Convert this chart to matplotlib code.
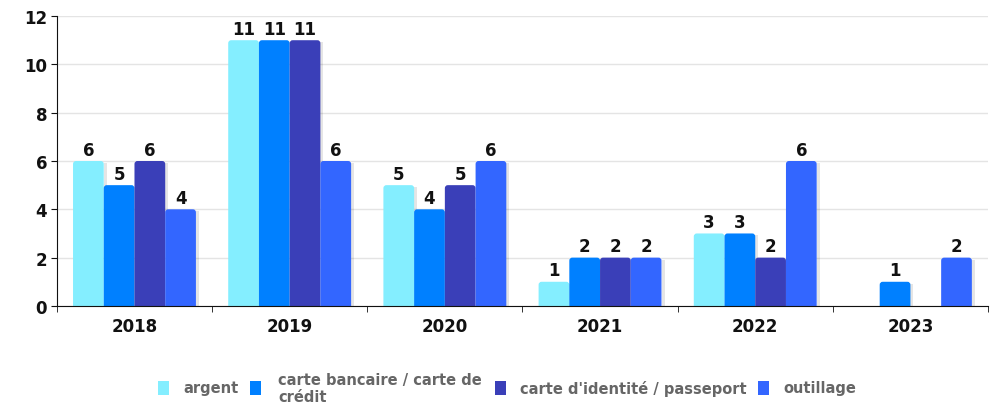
import numpy as np
import matplotlib
matplotlib.use("Agg")
import matplotlib.pyplot as plt
from matplotlib.patches import FancyBboxPatch, Rectangle

years = ["2018", "2019", "2020", "2021", "2022", "2023"]
series_names = ["argent", "carte bancaire / carte de\ncrédit",
                "carte d'identité / passeport", "outillage"]
argent = [6, 11, 5, 1, 3, None]
carte_bancaire = [5, 11, 4, 2, 3, 1]
carte_identite = [6, 11, 5, 2, 2, None]
outillage = [4, 6, 6, 2, 6, 2]
series_values = [argent, carte_bancaire, carte_identite, outillage]
colors = ["#84eeff", "#0080ff", "#3a3fb8", "#3366ff"]
yticks = [0, 2, 4, 6, 8, 10, 12]

W, H = 9.98, 4.06
fig = plt.figure(figsize=(W, H), dpi=100)
ax_rect = [0.057, 0.244, 0.933, 0.714]
ax = fig.add_axes(ax_rect)

n_groups = len(years)
x = np.arange(n_groups)
bar_w = 0.198
ax.set_xlim(-0.5, n_groups - 0.5)
ax.set_ylim(0, 12)

# pixel -> data scale for rounded bar tops
px_x = (n_groups) / (ax_rect[2] * W * 100)
px_y = 12 / (ax_rect[3] * H * 100)
r_px = 3.0
rs = r_px * px_x
aspect = px_y / px_x

for s, (vals, col) in enumerate(zip(series_values, colors)):
    for g, v in enumerate(vals):
        if v is None:
            continue
        left = x[g] - 2 * bar_w + s * bar_w
        # soft shadow on the right side of each bar
        ax.add_patch(Rectangle((left + bar_w, 0), 3 * px_x, v - 2 * px_y,
                               facecolor="#000000", alpha=0.10,
                               edgecolor="none", zorder=2))
        ax.add_patch(FancyBboxPatch(
            (left, -1.0), bar_w, v + 1.0,
            boxstyle=f"round,pad=0,rounding_size={rs}",
            mutation_aspect=aspect,
            facecolor=col, edgecolor="none", zorder=3, clip_on=True))
        ax.text(left + bar_w / 2, v + 0.1, str(v), ha="center",
                va="bottom", fontsize=12, fontweight="bold",
                color="#111111", zorder=4)

ax.set_yticks(yticks)
ax.set_yticklabels([str(t) for t in yticks], fontsize=12,
                   fontweight="bold", color="#111111")
ax.set_xticks(x)
ax.set_xticklabels(years, fontsize=12, fontweight="bold", color="#111111")
ax.tick_params(axis="x", length=0, pad=8)
ax.set_xticks(np.arange(-0.5, n_groups, 1.0), minor=True)
ax.tick_params(axis="x", which="minor", length=4, direction="out",
               color="#111111")
ax.tick_params(axis="y", length=4, direction="out", color="#111111", pad=3)

ax.grid(axis="y", color="#e4e4e4", linewidth=1.0, zorder=0)
ax.set_axisbelow(True)
for side in ["top", "right"]:
    ax.spines[side].set_visible(False)
ax.spines["left"].set_color("#111111")
ax.spines["bottom"].set_color("#111111")
ax.spines["left"].set_zorder(5)
ax.spines["bottom"].set_zorder(5)

# legend laid out along the bottom
swatch_x = [158, 250, 495, 758]
text_x = [183, 278, 520, 783]
leg_y = 389
for sx, tx, name, col in zip(swatch_x, text_x, series_names, colors):
    fig.patches.append(Rectangle((sx / (W * 100), 1 - (leg_y + 7) / (H * 100)),
                                 11 / (W * 100), 14 / (H * 100),
                                 transform=fig.transFigure, figure=fig,
                                 facecolor=col, edgecolor="none"))
    fig.text(tx / (W * 100), 1 - leg_y / (H * 100), name, ha="left",
             va="center", fontsize=10.5, fontweight="bold",
             color="#666666", linespacing=1.1)

fig.savefig("out.png", dpi=100)
